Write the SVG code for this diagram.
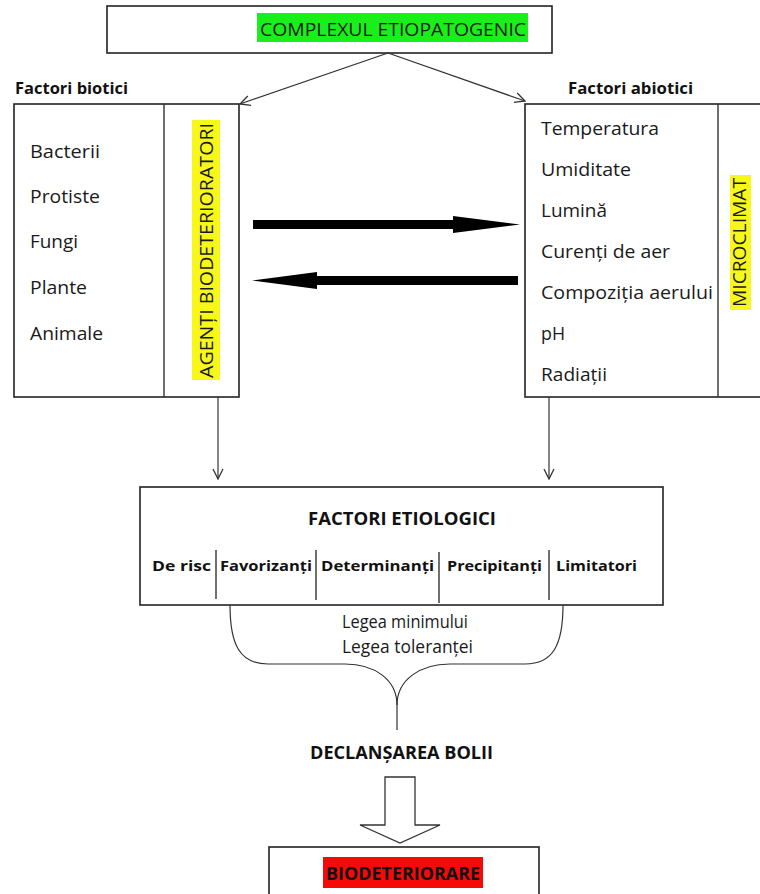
<svg xmlns="http://www.w3.org/2000/svg" width="760" height="894" viewBox="0 0 760 894">
<style>
.box{fill:#fff;stroke:#222;stroke-width:1.6}
.div{stroke:#333;stroke-width:1.4;fill:none}
.t{font-family:"Open Sans","Noto Sans",sans-serif;font-size:18px;fill:#1a1a1a}
.b{font-family:"Open Sans","Noto Sans",sans-serif;font-weight:bold;fill:#111}
.thin{stroke:#333;stroke-width:1.2;fill:none}
</style>
<defs>
<marker id="open" viewBox="0 0 12 12" refX="11" refY="6" markerWidth="12" markerHeight="12" markerUnits="userSpaceOnUse" orient="auto">
<path d="M1,1 L11,6 L1,11" fill="none" stroke="#333" stroke-width="1.3"/>
</marker>
</defs>
<rect width="760" height="894" fill="#fff"/>

<g id="complexul">
<rect class="box" x="107" y="6" width="445" height="47"/>
<rect x="257" y="13" width="271" height="29" fill="#19f019"/>
<text class="t" x="260" y="36" font-size="22" textLength="266" lengthAdjust="spacingAndGlyphs">COMPLEXUL ETIOPATOGENIC</text>
</g>

<g id="biotici">
<text class="b" x="15" y="94" font-size="16" textLength="113" lengthAdjust="spacingAndGlyphs">Factori biotici</text>
<rect class="box" x="14" y="104" width="225" height="293"/>
<line class="div" x1="164" y1="104" x2="164" y2="397"/>
<text class="t" x="30" y="158" textLength="70" lengthAdjust="spacingAndGlyphs">Bacterii</text>
<text class="t" x="30" y="203" textLength="70" lengthAdjust="spacingAndGlyphs">Protiste</text>
<text class="t" x="30" y="248" textLength="48" lengthAdjust="spacingAndGlyphs">Fungi</text>
<text class="t" x="30" y="294" textLength="57" lengthAdjust="spacingAndGlyphs">Plante</text>
<text class="t" x="30" y="340" textLength="73" lengthAdjust="spacingAndGlyphs">Animale</text>
<rect x="192" y="120" width="28" height="260" fill="#f7f71a"/>
<text class="t" transform="translate(213,378) rotate(-90)" x="0" y="0" textLength="255" lengthAdjust="spacingAndGlyphs">AGENȚI BIODETERIORATORI</text>
</g>

<g id="abiotici">
<text class="b" x="568" y="94" font-size="16" textLength="125" lengthAdjust="spacingAndGlyphs">Factori abiotici</text>
<rect class="box" x="525" y="104" width="245" height="293"/>
<line class="div" x1="718" y1="104" x2="718" y2="397"/>
<text class="t" x="541" y="135" textLength="118" lengthAdjust="spacingAndGlyphs">Temperatura</text>
<text class="t" x="541" y="176" textLength="90" lengthAdjust="spacingAndGlyphs">Umiditate</text>
<text class="t" x="541" y="217" textLength="66" lengthAdjust="spacingAndGlyphs">Lumină</text>
<text class="t" x="541" y="258" textLength="129" lengthAdjust="spacingAndGlyphs">Curenți de aer</text>
<text class="t" x="541" y="299" textLength="172" lengthAdjust="spacingAndGlyphs">Compoziția aerului</text>
<text class="t" x="541" y="340" textLength="24" lengthAdjust="spacingAndGlyphs">pH</text>
<text class="t" x="541" y="381" textLength="66" lengthAdjust="spacingAndGlyphs">Radiații</text>
<rect x="730" y="175" width="21" height="135" fill="#f7f71a"/>
<text class="t" transform="translate(746,307) rotate(-90)" x="0" y="0" textLength="129" lengthAdjust="spacingAndGlyphs">MICROCLIMAT</text>
</g>

<g id="etiologici">
<rect class="box" x="140" y="487" width="523" height="118"/>
<text class="b" x="308" y="525" font-size="17" textLength="188" lengthAdjust="spacingAndGlyphs">FACTORI ETIOLOGICI</text>
<text class="b" x="152" y="571" font-size="15" textLength="59" lengthAdjust="spacingAndGlyphs">De risc</text>
<text class="b" x="220" y="571" font-size="15" textLength="92" lengthAdjust="spacingAndGlyphs">Favorizanți</text>
<text class="b" x="321" y="571" font-size="15" textLength="113" lengthAdjust="spacingAndGlyphs">Determinanți</text>
<text class="b" x="447" y="571" font-size="15" textLength="95" lengthAdjust="spacingAndGlyphs">Precipitanți</text>
<text class="b" x="556" y="571" font-size="15" textLength="81" lengthAdjust="spacingAndGlyphs">Limitatori</text>
<line class="div" x1="216" y1="550" x2="216" y2="599"/>
<line class="div" x1="316" y1="550" x2="316" y2="600"/>
<line class="div" x1="439" y1="552" x2="439" y2="603"/>
<line class="div" x1="549" y1="550" x2="549" y2="600"/>
</g>

<g id="legi">
<text class="t" x="342" y="628" font-size="15" textLength="126" lengthAdjust="spacingAndGlyphs">Legea minimului</text>
<text class="t" x="342" y="653" font-size="15" textLength="131" lengthAdjust="spacingAndGlyphs">Legea toleranței</text>
</g>

<g id="declansarea">
<text class="b" x="310" y="759" font-size="18" textLength="183" lengthAdjust="spacingAndGlyphs">DECLANȘAREA BOLII</text>
</g>

<g id="biodeteriorare">
<rect class="box" x="269" y="847" width="270" height="60"/>
<rect x="323" y="857" width="160" height="31" fill="#f50a0a"/>
<text class="b" x="326" y="880" font-size="18" textLength="154" lengthAdjust="spacingAndGlyphs">BIODETERIORARE</text>
</g>

<g id="connectors">
<line class="thin" x1="388" y1="53" x2="240" y2="104" marker-end="url(#open)"/>
<line class="thin" x1="388" y1="53" x2="525" y2="101" marker-end="url(#open)"/>
<polygon points="253,220 453,220 453,216 520,224.5 453,233 453,229 253,229" fill="#000"/>
<polygon points="518,276 317,276 317,272 252,280.5 317,289 317,285 518,285" fill="#000"/>
<line class="thin" x1="218" y1="397" x2="218" y2="479" marker-end="url(#open)"/>
<line class="thin" x1="549" y1="397" x2="549" y2="479" marker-end="url(#open)"/>
<path class="thin" stroke-width="1.5" d="M230,605 C230,645 240,664 268,664 L345,664 C375,664 397,680 397,705 L397,730"/>
<path class="thin" stroke-width="1.5" d="M563,605 C563,645 553,664 525,664 L450,664 C420,664 397,680 397,705"/>
<polygon points="385,777 415,777 415,825 440,825 400,843 360,825 385,825" fill="#fff" stroke="#333" stroke-width="1.3"/>
</g>
</svg>
